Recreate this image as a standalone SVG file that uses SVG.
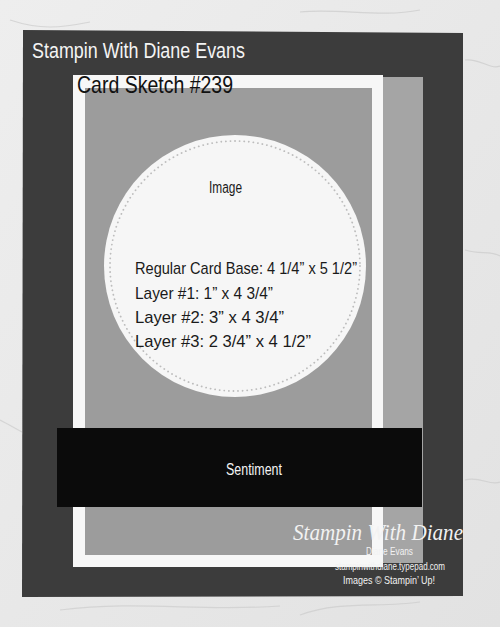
<svg xmlns="http://www.w3.org/2000/svg" width="500" height="627" viewBox="0 0 500 627">
<style>
.hand{font-family:"Liberation Sans","DejaVu Sans",sans-serif;}
.dark{fill:#1a1a1a;}
.lite{fill:#f4f4f4;}
.wm{fill:#f2f2f2;font-family:"Liberation Sans",sans-serif;}
</style>
<defs>
<linearGradient id="bg" x1="0" y1="0" x2="1" y2="1">
<stop offset="0" stop-color="#eeeeee"/>
<stop offset="1" stop-color="#e2e2e2"/>
</linearGradient>
</defs>
<rect x="0" y="0" width="500" height="627" fill="url(#bg)"/>
<g stroke="#cfcfcf" stroke-width="1.2" fill="none" opacity="0.8">
<path d="M300 12 C340 8 380 18 420 10"/>
<path d="M10 20 C40 30 60 28 90 22"/>
<path d="M465 60 C480 58 490 70 500 66"/>
<path d="M465 250 C480 255 490 250 500 256"/>
<path d="M0 420 C10 425 18 430 22 432"/>
<path d="M60 610 C140 600 200 612 280 606"/>
<path d="M300 615 C340 600 380 608 420 602"/>
<path d="M465 480 C480 476 490 486 500 482"/>
</g>
<g id="card-base">
<polygon points="23,30 463,33 463,596 22,597" fill="#3c3c3c"/>
</g>
<g id="layer1-strip">
<rect x="383" y="77" width="40" height="486" fill="#a5a5a5"/>
</g>
<g id="layer2-white">
<rect x="73" y="75" width="310" height="492" fill="#f7f7f7"/>
</g>
<g id="layer3-gray">
<rect x="85" y="88" width="287" height="467" fill="#9c9c9c"/>
</g>
<g id="circle-image">
<circle cx="235" cy="266" r="131" fill="#f6f6f6"/>
<circle cx="235" cy="266" r="125" fill="none" stroke="#bdbdbd" stroke-width="1.8" stroke-linecap="round" stroke-dasharray="0.1 4.5"/>
<text class="hand dark" x="209" y="193" font-size="16" textLength="33" lengthAdjust="spacingAndGlyphs">Image</text>
<text class="hand dark" x="135" y="274" font-size="17" textLength="222" lengthAdjust="spacingAndGlyphs">Regular Card Base:  4 1/4” x 5 1/2”</text>
<text class="hand dark" x="135" y="299" font-size="17" textLength="138" lengthAdjust="spacingAndGlyphs">Layer #1:  1” x 4 3/4”</text>
<text class="hand dark" x="135" y="323" font-size="17" textLength="149" lengthAdjust="spacingAndGlyphs">Layer #2:  3” x 4 3/4”</text>
<text class="hand dark" x="135" y="347" font-size="17" textLength="176" lengthAdjust="spacingAndGlyphs">Layer #3:  2 3/4” x 4 1/2”</text>
</g>
<g id="sentiment-band">
<rect x="57" y="428" width="365" height="79" fill="#0b0b0b"/>
<text class="hand lite" x="226" y="475" font-size="16" textLength="56" lengthAdjust="spacingAndGlyphs">Sentiment</text>
</g>
<g id="title">
<text class="hand lite" x="32" y="58" font-size="22" textLength="213" lengthAdjust="spacingAndGlyphs">Stampin With Diane Evans</text>
<text class="hand" fill="#111" x="77" y="93" font-size="24" textLength="156" lengthAdjust="spacingAndGlyphs">Card Sketch #239</text>
</g>
<g id="watermark">
<text class="wm" x="293" y="540" font-size="24" textLength="170" lengthAdjust="spacingAndGlyphs" style="font-family:'Liberation Serif',serif;font-style:italic">Stampin With Diane</text>
<text class="wm" x="366" y="555" font-size="11" textLength="47" lengthAdjust="spacingAndGlyphs">Diane Evans</text>
<text class="wm" x="335" y="570" font-size="10" textLength="110" lengthAdjust="spacingAndGlyphs">stampinwithdiane.typepad.com</text>
<text class="wm" x="343" y="584" font-size="11" textLength="92" lengthAdjust="spacingAndGlyphs">Images © Stampin’ Up!</text>
</g>
</svg>
